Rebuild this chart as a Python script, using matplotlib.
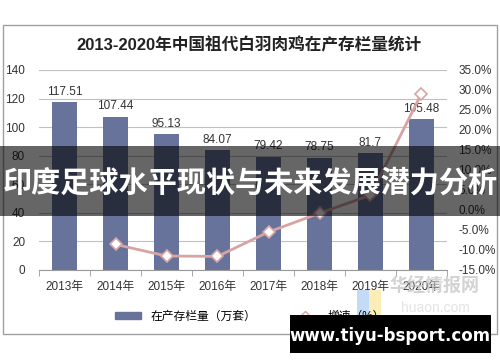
import matplotlib.pyplot as plt
from matplotlib.patches import Rectangle
from matplotlib.lines import Line2D

plt.rcParams['font.family'] = ['Liberation Sans', 'Noto Sans CJK SC', 'DejaVu Sans']

years = ['2013年', '2014年', '2015年', '2016年', '2017年', '2018年', '2019年', '2020年']
stock = [117.51, 107.44, 95.13, 84.07, 79.42, 78.75, 81.7, 105.48]
growth = [None, -8.6, -11.5, -11.6, -5.5, -0.8, 3.7, 29.1]

bar_color = '#67739b'
line_color = '#d8a3a3'

fig = plt.figure(figsize=(5, 3.62), dpi=100)

# outer chart frame
fig.patches.append(Rectangle((3 / 500, 1 - 334 / 362), 494 / 500, 309 / 362,
                             transform=fig.transFigure, fill=False, edgecolor='#a0a0a0', lw=1))
fig.text(0.497, 1 - 45 / 362, '2013-2020年中国祖代白羽肉鸡在产存栏量统计',
         ha='center', va='center', fontsize=12, fontweight='bold', color='#222222')

ax = fig.add_axes([39 / 500, 1 - 270 / 362, 408 / 500, 200 / 362])
x = list(range(len(years)))
ax.bar(x, stock, width=0.49, color=bar_color, zorder=2)
for xi, v in zip(x, stock):
    ax.text(xi, v + 3, f'{v:g}', ha='center', va='bottom', fontsize=8.5, color='#333333')
ax.set_ylim(0, 140)
ax.set_yticks(range(0, 141, 20))
ax.set_xlim(-0.5, len(years) - 0.5)
ax.set_xticks(x)
ax.set_xticklabels(years, fontsize=8.5, color='#333333')
ax.set_xticks([i + 0.5 for i in range(-1, len(years))], minor=True)
ax.tick_params(axis='x', which='major', length=0, pad=8)
ax.tick_params(axis='x', which='minor', length=4, color='#999999')
ax.tick_params(axis='y', length=0, labelsize=8.5, labelcolor='#333333', pad=10)
ax.grid(axis='y', color='#c0c0c0', lw=0.8, zorder=0)
for s in ['top', 'right', 'left']:
    ax.spines[s].set_visible(False)
ax.spines['bottom'].set_color('#999999')

ax2 = ax.twinx()
gx = [xi for xi, g in zip(x, growth) if g is not None]
gy = [g for g in growth if g is not None]
ax2.plot(gx, gy, color=line_color, lw=2, marker='D', markersize=6,
         markerfacecolor='white', markeredgecolor=line_color, markeredgewidth=1.2, zorder=3)
ax2.set_ylim(-15, 35)
ax2.set_yticks(range(-15, 36, 5))
ax2.set_yticklabels([f'{t:.1f}%' for t in range(-15, 36, 5)])
ax2.tick_params(axis='y', length=0, labelsize=8.5, labelcolor='#333333', pad=8)
for s in ['top', 'right', 'left', 'bottom']:
    ax2.spines[s].set_visible(False)

# legend
handles = [Rectangle((0, 0), 1, 1, color=bar_color),
           Line2D([], [], color=line_color, lw=2, marker='D', markersize=5,
                  markerfacecolor='white', markeredgecolor=line_color)]
fig.legend(handles, ['在产存栏量（万套）', '增速（%）'], loc='center',
           bbox_to_anchor=(0.5, 1 - 317 / 362), ncol=2, frameon=False,
           fontsize=8.5, handlelength=2.2, handleheight=0.5, columnspacing=3)

# watermark
fig.text(0.87, 1 - 287 / 362, '华经情报网', ha='center', va='center',
         fontsize=13, color='#c8c8c8', fontweight='bold', alpha=0.8)
fig.text(0.87, 1 - 308 / 362, 'huaon.com', ha='center', va='center',
         fontsize=10, color='#dddddd', alpha=0.8)
fig.patches.append(Rectangle((357 / 500, 1 - 316 / 362), 12 / 500, 26 / 362,
                             transform=fig.transFigure, color='#9cc3f2', alpha=0.6, lw=0))
fig.patches.append(Rectangle((369 / 500, 1 - 316 / 362), 12 / 500, 26 / 362,
                             transform=fig.transFigure, color='#f7e28a', alpha=0.6, lw=0))

# overlay banner
fig.patches.append(Rectangle((0, 1 - 216 / 362), 1, 70 / 362, transform=fig.transFigure,
                             color='black', alpha=0.6, lw=0, zorder=10))
fig.text(0.5, 1 - 183 / 362, '印度足球水平现状与未来发展潜力分析', ha='center', va='center',
         fontsize=21, fontweight='bold', color='white', zorder=11)

# site box
fig.patches.append(Rectangle((290 / 500, 1 - 353 / 362), 201 / 500, 38 / 362,
                             transform=fig.transFigure, color='black', lw=0, zorder=10))
fig.text(390 / 500, 1 - 336 / 362, 'www.tiyu-bsport.com', ha='center', va='center',
         fontsize=12, fontweight='bold', color='white', zorder=11,
         family=['DejaVu Sans'])

fig.savefig('out.png', dpi=100)
